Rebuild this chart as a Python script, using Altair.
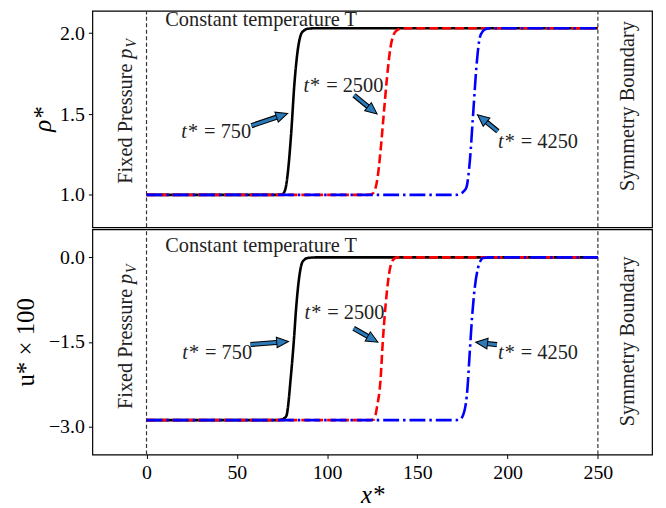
import math
import altair as alt
import pandas as pd

# ---------------- data ----------------
X_DOMAIN = [-30, 280]
RHO_DOMAIN = [0.8, 2.138]
U_DOMAIN = [-3.5, 0.5]
x_ticks = [0, 50, 100, 150, 200, 250]
rho_ticks = [1.0, 1.5, 2.0]
u_ticks = [-3.0, -1.5, 0.0]
boundary_x = [0, 250]

series_names = ["750", "2500", "4250"]

# density profiles
rho750_x = [0, 70, 74.0, 75.5, 77.0, 78.2, 80.1, 81.9, 83.7, 85.6, 87.0, 88.4, 90.5, 93.9, 250]
rho750_y = [1.0, 1.0, 1.001, 1.006, 1.04, 1.13, 1.377, 1.685, 1.89, 1.994, 2.015, 2.025, 2.029, 2.031, 2.031]
rho2500_x = [0, 120, 123.5, 125.0, 126.5, 127.7, 129.6, 131.4, 133.2, 135.1, 137.0, 138.3, 139.6, 142.0, 145.0, 250]
rho2500_y = [1.0, 1.0, 1.001, 1.006, 1.03, 1.087, 1.27, 1.5, 1.726, 1.91, 1.994, 2.015, 2.025, 2.029, 2.031, 2.031]
rho4250_x = [0, 170, 172.3, 173.6, 175.5, 177.2, 179.1, 180.9, 182.7, 184.6, 186.4, 187.7, 189.1, 192.0, 250]
rho4250_y = [1.0, 1.0, 1.001, 1.006, 1.02, 1.047, 1.212, 1.5, 1.788, 1.973, 2.014, 2.025, 2.03, 2.031, 2.031]

# velocity profiles (u* x 100)
u750_x = [0, 70, 73.3, 74.6, 76.0, 77.4, 80.1, 81.6, 82.9, 84.3, 86.1, 87.5, 89.3, 94.0, 250]
u750_y = [-2.89, -2.89, -2.888, -2.88, -2.86, -2.82, -2.06, -1.48, -0.89, -0.42, -0.10, -0.04, -0.01, 0.0, 0.0]
u2500_x = [0, 122, 124.5, 125.9, 127.7, 129.6, 130.9, 132.3, 133.8, 135.6, 137.0, 138.7, 142.0, 250]
u2500_y = [-2.89, -2.89, -2.888, -2.88, -2.65, -2.18, -1.48, -0.89, -0.42, -0.10, -0.03, 0.0, 0.0, 0.0]
u4250_x = [0, 170, 172.3, 173.6, 176.2, 177.7, 179.1, 180.3, 181.8, 183.6, 185.0, 186.4, 190.0, 250]
u4250_y = [-2.89, -2.89, -2.888, -2.88, -2.71, -2.35, -1.65, -1.07, -0.54, -0.19, -0.06, -0.01, 0.0, 0.0]

# annotation labels: (x of gap between "t*" and "= ...", y centre)
rho_label_x = [29.7, 97.3, 205.1]
rho_label_y = [1.386, 1.675, 1.325]
u_label_x = [30.2, 97.9, 205.1]
u_label_y = [-1.70, -0.99, -1.70]

# arrows: tails and tips
rho_arrow_tail_x = [58.1, 114.9, 194.6]
rho_arrow_tail_y = [1.428, 1.617, 1.393]
rho_arrow_tip_x = [78.2, 127.7, 183.3]
rho_arrow_tip_y = [1.504, 1.5, 1.496]
u_arrow_tail_x = [57.6, 114.7, 194.1]
u_arrow_tail_y = [-1.547, -1.26, -1.55]
u_arrow_tip_x = [78.6, 128.2, 182.4]
u_arrow_tip_y = [-1.494, -1.506, -1.506]

const_text = "Constant temperature T"
const_x = 10.4
const_y_rho = 2.046
const_y_u = 0.088

fixed_x = -7.9
fixed_y_rho = 1.905
fixed_y_u = -0.293
sym_x = 270.1
sym_y_rho = 1.549
sym_y_u = -1.49

# ---------------- styling ----------------
FONT = "Liberation Serif"
W = 564
H_TOP = 218
H_BOT = 227
TXT = 20.5
ARROW_FILL = "#2b7bba"
line_styles = [
    ("black", [1, 0]),
    ("#ff0000", [9, 4]),
    ("#0000ff", [16, 4, 2.5, 4]),
]

XAXIS = alt.Axis(values=x_ticks, format="d", title="x*", titleFontSize=25,
                 titleFontStyle="italic", labelFontSize=20, tickSize=4,
                 labelPadding=4, grid=False, domain=False, titlePadding=0)


def xenc(field, show):
    return alt.X(field, type="quantitative",
                 scale=alt.Scale(domain=X_DOMAIN, nice=False, zero=False),
                 axis=XAXIS if show else None)


def panel(curves, ydomain, yticks, ytitle, ystyle, H, lab_x, lab_y,
          tail_x, tail_y, tip_x, tip_y, cy, fy, sy, show_x, extent, tpad):
    ky = H / (ydomain[1] - ydomain[0])
    kx = W / (X_DOMAIN[1] - X_DOMAIN[0])
    yaxis = alt.Axis(values=yticks, format=".1f", title=ytitle, titleFontSize=25,
                     titleFontStyle=ystyle, titlePadding=tpad,
                     minExtent=extent, maxExtent=extent, labelFontSize=20,
                     tickSize=4, labelPadding=4, grid=False, domain=False)

    def yenc(field):
        return alt.Y(field, type="quantitative",
                     scale=alt.Scale(domain=ydomain, nice=False, zero=False),
                     axis=yaxis)

    layers = []
    rules = alt.Chart(pd.DataFrame({"x": boundary_x, "y0": [ydomain[0]] * 2,
                                    "y1": [ydomain[1]] * 2})).mark_rule(
        color="#333333", strokeWidth=1.2, strokeDash=[4, 2.5], clip=True).encode(
        x=xenc("x", show_x), y=yenc("y0"), y2="y1")
    layers.append(rules)

    for (xs, ys), (col, dash), name in zip(curves, line_styles, series_names):
        df = pd.DataFrame({"x": xs, "y": ys})
        layers.append(alt.Chart(df).mark_line(
            color=col, strokeDash=dash, strokeWidth=2.6,
            interpolate="monotone", clip=True).encode(x=xenc("x", show_x), y=yenc("y")))

    # arrows
    rows = []
    for tx, ty, hx, hy in zip(tail_x, tail_y, tip_x, tip_y):
        dxp = (hx - tx) * kx
        dyp = -(hy - ty) * ky
        L = math.hypot(dxp, dyp)
        f = max(0.0, (L - 9) / L)
        ang = math.degrees(math.atan2(dyp, dxp)) % 360
        rows.append(dict(x=tx, y=ty, x2=tx + (hx - tx) * f, y2=ty + (hy - ty) * f,
                         hx=hx, hy=hy, ang=ang))
    adf = pd.DataFrame(rows)
    base = alt.Chart(adf)
    layers.append(base.mark_rule(color="black", strokeWidth=5.2, strokeCap="butt").encode(
        x=xenc("x", show_x), y=yenc("y"), x2="x2", y2="y2"))
    layers.append(base.mark_rule(color=ARROW_FILL, strokeWidth=3, strokeCap="butt").encode(
        x=xenc("x", show_x), y=yenc("y"), x2="x2", y2="y2"))
    layers.append(base.mark_point(shape="M0,0 L-1,-0.45 L-1,0.45 Z", filled=True,
                                  fill=ARROW_FILL, stroke="black", strokeWidth=1,
                                  size=560, opacity=1).encode(
        x=xenc("hx", show_x), y=yenc("hy"), angle=alt.Angle("ang:Q", scale=None)))

    # t* labels
    ldf = pd.DataFrame({"x": lab_x, "y": lab_y,
                        "a": ["t*"] * 3,
                        "b": ["= " + s for s in series_names]})
    lb = alt.Chart(ldf)
    layers.append(lb.mark_text(font=FONT, fontSize=TXT, fontStyle="italic",
                               align="right", baseline="middle", dx=-3, color="#222").encode(
        x=xenc("x", show_x), y=yenc("y"), text="a:N"))
    layers.append(lb.mark_text(font=FONT, fontSize=TXT, align="left",
                               baseline="middle", dx=4, color="#222").encode(
        x=xenc("x", show_x), y=yenc("y"), text="b:N"))

    # constant temperature label (clipped so its box does not enlarge the layout)
    cdf = pd.DataFrame({"x": [const_x], "y": [cy], "t": [const_text]})
    layers.append(alt.Chart(cdf).mark_text(font=FONT, fontSize=TXT, align="left",
                                           baseline="alphabetic", color="#222",
                                           clip=True).encode(
        x=xenc("x", show_x), y=yenc("y"), text="t:N"))

    # fixed pressure (rotated) p_V
    fdf = pd.DataFrame({"x": [fixed_x], "y": [fy], "a": ["Fixed Pressure"],
                        "p": ["p"], "v": ["V"]})
    fb = alt.Chart(fdf)
    layers.append(fb.mark_text(font=FONT, fontSize=TXT, angle=270, align="right",
                               baseline="alphabetic", dx=-15, color="#222",
                               clip=True).encode(
        x=xenc("x", show_x), y=yenc("y"), text="a:N"))
    layers.append(fb.mark_text(font=FONT, fontSize=TXT, fontStyle="italic", angle=270,
                               align="right", baseline="alphabetic", color="#222",
                               clip=True).encode(
        x=xenc("x", show_x), y=yenc("y"), text="p:N"))
    layers.append(fb.mark_text(font=FONT, fontSize=14, fontStyle="italic", angle=270,
                               align="left", baseline="alphabetic", dx=1, dy=4,
                               color="#222", clip=True).encode(
        x=xenc("x", show_x), y=yenc("y"), text="v:N"))

    # symmetry boundary (rotated)
    sdf = pd.DataFrame({"x": [sym_x], "y": [sy], "t": ["Symmetry Boundary"]})
    layers.append(alt.Chart(sdf).mark_text(font=FONT, fontSize=TXT, angle=270,
                                           align="center", baseline="alphabetic",
                                           color="#222", clip=True).encode(
        x=xenc("x", show_x), y=yenc("y"), text="t:N"))

    return alt.layer(*layers).properties(width=W, height=H)


top = panel([(rho750_x, rho750_y), (rho2500_x, rho2500_y), (rho4250_x, rho4250_y)],
            RHO_DOMAIN, rho_ticks, "ρ*", "italic", H_TOP,
            rho_label_x, rho_label_y,
            rho_arrow_tail_x, rho_arrow_tail_y, rho_arrow_tip_x, rho_arrow_tip_y,
            const_y_rho, fixed_y_rho, sym_y_rho, False, 36, 1)

bottom = panel([(u750_x, u750_y), (u2500_x, u2500_y), (u4250_x, u4250_y)],
               U_DOMAIN, u_ticks, "u* × 100", "normal", H_BOT,
               u_label_x, u_label_y,
               u_arrow_tail_x, u_arrow_tail_y, u_arrow_tip_x, u_arrow_tip_y,
               const_y_u, fixed_y_u, sym_y_u, True, 49, 5)

chart = alt.vconcat(top, bottom, spacing=0).properties(
    padding={"left": 5, "top": 0, "right": 5, "bottom": 2}
).configure_view(stroke="black", strokeWidth=1.2).configure_axis(
    labelFont=FONT, titleFont=FONT, labelColor="black", titleColor="black",
    tickColor="black", tickWidth=1, titleFontWeight="normal"
)

chart.save("out.html", embed_options={"renderer": "svg", "actions": False})
